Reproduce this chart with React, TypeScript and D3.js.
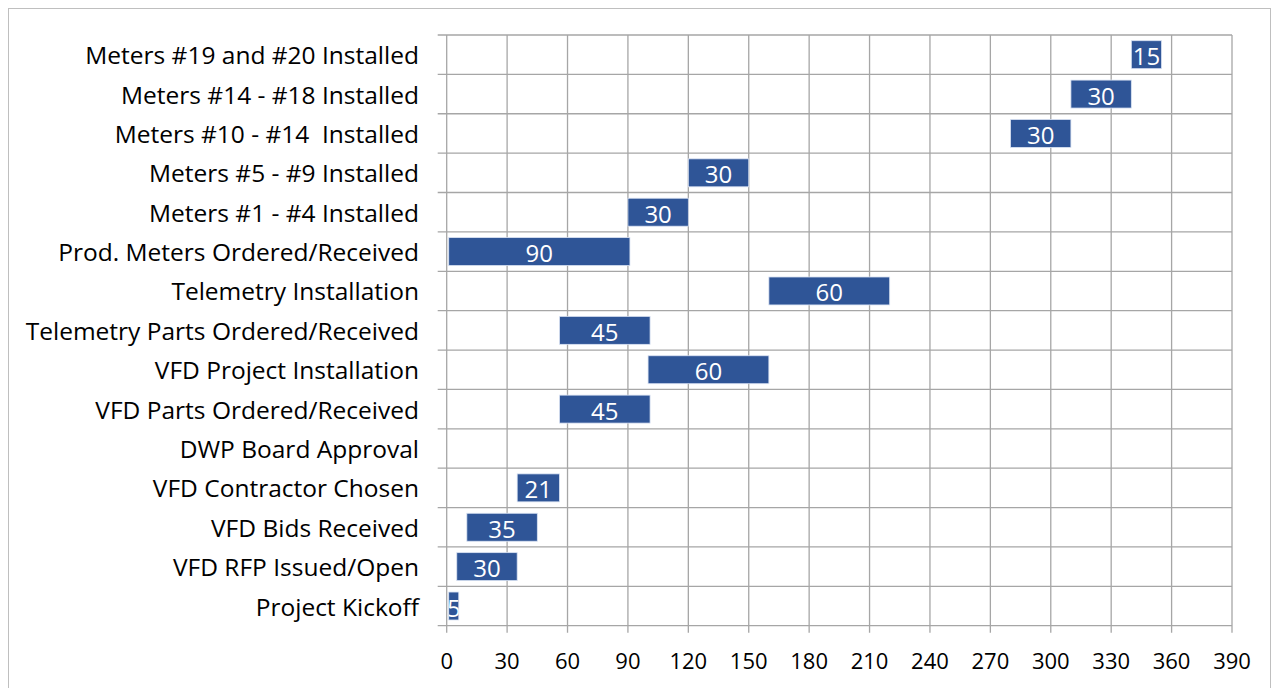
import React from "react";
import * as d3 from "d3";

const categories = [
  "Meters #19 and #20 Installed",
  "Meters #14 - #18 Installed",
  "Meters #10 - #14  Installed",
  "Meters #5 - #9 Installed",
  "Meters #1 - #4 Installed",
  "Prod. Meters Ordered/Received",
  "Telemetry Installation",
  "Telemetry Parts Ordered/Received",
  "VFD Project Installation",
  "VFD Parts Ordered/Received",
  "DWP Board Approval",
  "VFD Contractor Chosen",
  "VFD Bids Received",
  "VFD RFP Issued/Open",
  "Project Kickoff",
];
const startDays = [340, 310, 280, 120, 90, 1, 160, 56, 100, 56, 0, 35, 10, 5, 1];
const durations = [15, 30, 30, 30, 30, 90, 60, 45, 60, 45, 0, 21, 35, 30, 5];
const xTicks = [0, 30, 60, 90, 120, 150, 180, 210, 240, 270, 300, 330, 360, 390];

const W = 1263;
const H = 700;
const left = 438.7;
const right = 1224;
const top = 27;
const bottom = 617.7;
const FONT = "'Open Sans', sans-serif";

export default function App() {
  const x = d3.scaleLinear().domain([0, 390]).range([left, right]);
  const y = d3
    .scaleBand<string>()
    .domain(categories)
    .range([top, bottom])
    .paddingInner(0.29)
    .paddingOuter(0.145);
  const step = (bottom - top) / categories.length;
  const rowLines = d3.range(categories.length + 1).map((i) => top + i * step);
  const grid = "#A6A6A6";

  return (
    <svg width={W} height={H} style={{ display: "block" }}>
      <rect x={0.5} y={0.5} width={W - 1} height={H + 10} fill="#fff" stroke="#BFBFBF" strokeWidth={1} />
      {rowLines.map((ly, i) => (
        <line key={"h" + i} x1={left - 9} x2={right} y1={ly} y2={ly} stroke={grid} strokeWidth={1.3} />
      ))}
      {xTicks.map((t) => (
        <line key={"v" + t} x1={x(t)} x2={x(t)} y1={top} y2={bottom + 7} stroke={grid} strokeWidth={1.3} />
      ))}
      {categories.map((c, i) => {
        const d = durations[i];
        if (d <= 0) return null;
        const bx = x(startDays[i]);
        const bw = x(startDays[i] + d) - bx;
        const by = y(c)!;
        const bh = y.bandwidth();
        return (
          <g key={"b" + i}>
            <rect x={bx} y={by} width={bw} height={bh} fill="#2F5597" stroke="#DAE3F3" strokeWidth={0.8} />
            <svg x={bx} y={by} width={bw} height={bh} overflow="hidden">
              <text
                x={bw / 2}
                y={bh / 2 + 1}
                textAnchor="middle"
                dominantBaseline="central"
                fill="#fff"
                fontFamily={FONT}
                fontSize={24}
              >
                {d}
              </text>
            </svg>
          </g>
        );
      })}
      {categories.map((c, i) => (
        <text
          key={"l" + i}
          x={411}
          y={y(c)! + y.bandwidth() / 2}
          textAnchor="end"
          dominantBaseline="central"
          fill="#000"
          fontFamily={FONT}
          fontSize={24.5}
          style={{ whiteSpace: "pre" }}
        >
          {c}
        </text>
      ))}
      {xTicks.map((t) => (
        <text
          key={"t" + t}
          x={x(t)}
          y={652}
          textAnchor="middle"
          dominantBaseline="central"
          fill="#000"
          fontFamily={FONT}
          fontSize={22}
        >
          {t}
        </text>
      ))}
    </svg>
  );
}
